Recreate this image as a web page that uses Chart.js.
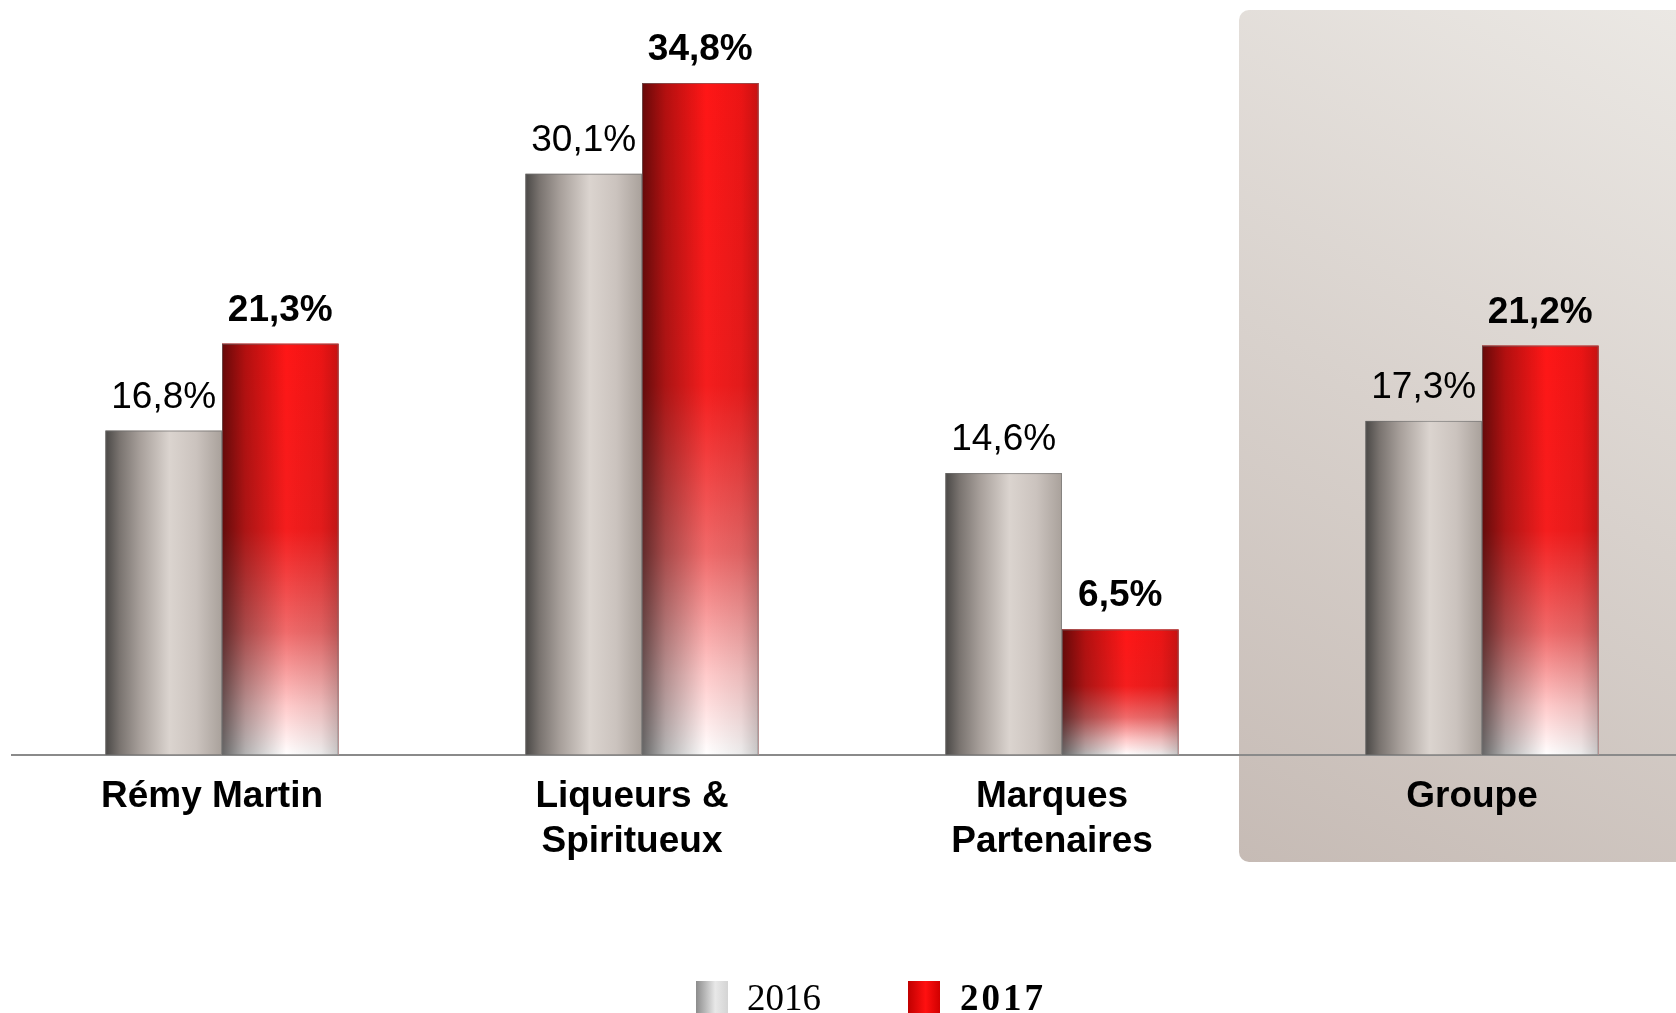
<!DOCTYPE html>
<html lang="fr">
<head>
    <meta charset="UTF-8">
    <title>Marge opérationnelle courante</title>
    <script src="https://cdn.jsdelivr.net/npm/chart.js"></script>
    <style>
        html, body { margin: 0; padding: 0; background: #fff; overflow: hidden; }
        .chart-box { position: absolute; left: 0; top: 0; width: 1700px; height: 1013px; }
    </style>
</head>
<body>
    <div class="chart-box">
        <canvas id="marginChart"></canvas>
    </div>
<script>
    const categories = [['Rémy Martin'], ['Liqueurs &', 'Spiritueux'], ['Marques', 'Partenaires'], ['Groupe']];
    const years = ['2016', '2017'];
    const margin2016 = [16.8, 30.1, 14.6, 17.3];
    const margin2017 = [21.3, 34.8, 6.5, 21.2];
    const axisMax = 39.1;

    const fmt = v => v.toFixed(1).replace('.', ',') + '%';

    // grey box behind "Groupe"
    const groupPanel = {
        id: 'groupPanel',
        beforeDraw(chart) {
            const ctx = chart.ctx;
            const left = chart.scales.x.getPixelForValue(3) - 243;
            const top = 10, bottom = chart.chartArea.bottom + 107, right = chart.width + 20, r = 10;
            const g = ctx.createLinearGradient(left, bottom, left + 440, top);
            g.addColorStop(0, '#c6bbb5');
            g.addColorStop(1, '#ebe8e4');
            ctx.save();
            ctx.fillStyle = g;
            ctx.beginPath();
            ctx.roundRect(left, top, right - left, bottom - top, r);
            ctx.fill();
            ctx.restore();
        }
    };

    // cylinder look + value labels
    const barLook = {
        id: 'barLook',
        afterDatasetsDraw(chart) {
            const ctx = chart.ctx;
            chart.data.datasets.forEach((ds, di) => {
                chart.getDatasetMeta(di).data.forEach((bar, i) => {
                    const {x, y, base, width} = bar.getProps(['x', 'y', 'base', 'width'], true);
                    const l = x - width / 2, r = x + width / 2, h = base - y;
                    ctx.save();
                    if (di === 0) {
                        const g = ctx.createLinearGradient(l, 0, r, 0);
                        g.addColorStop(0, '#4a4846');
                        g.addColorStop(0.12, '#79736f');
                        g.addColorStop(0.3, '#a8a09b');
                        g.addColorStop(0.55, '#dbd4cf');
                        g.addColorStop(0.78, '#cbc3be');
                        g.addColorStop(1, '#a9a19b');
                        ctx.fillStyle = g;
                        ctx.fillRect(l, y, width, h);
                    } else {
                        const v = ctx.createLinearGradient(0, y, 0, base);
                        v.addColorStop(0, '#ff1616');
                        v.addColorStop(0.45, '#f51d1d');
                        v.addColorStop(0.7, '#f06a6a');
                        v.addColorStop(0.88, '#ffcaca');
                        v.addColorStop(1, '#ffffff');
                        ctx.fillStyle = v;
                        ctx.fillRect(l, y, width, h);
                        const s = ctx.createLinearGradient(l, 0, r, 0);
                        s.addColorStop(0, 'rgba(0,0,0,0.6)');
                        s.addColorStop(0.2, 'rgba(0,0,0,0.3)');
                        s.addColorStop(0.55, 'rgba(0,0,0,0)');
                        s.addColorStop(0.85, 'rgba(0,0,0,0.08)');
                        s.addColorStop(1, 'rgba(0,0,0,0.22)');
                        ctx.fillStyle = s;
                        ctx.fillRect(l, y, width, h);
                    }
                    ctx.strokeStyle = 'rgba(110,110,110,0.6)';
                    ctx.lineWidth = 1;
                    ctx.strokeRect(l + 0.5, y + 0.5, width - 1, h - 1);

                    ctx.fillStyle = '#000';
                    ctx.font = (di === 1 ? 'bold ' : '') + '37px "Liberation Sans", Arial, sans-serif';
                    ctx.textAlign = 'center';
                    ctx.textBaseline = 'alphabetic';
                    ctx.fillText(fmt(ds.data[i]), x, y - 23);
                    ctx.restore();
                });
            });
        }
    };

    // legend at the bottom, cut by the frame like the original
    const bottomLegend = {
        id: 'bottomLegend',
        afterDraw(chart) {
            const ctx = chart.ctx;
            const y = 981, baseLine = 1010;
            ctx.save();
            let g = ctx.createLinearGradient(696, 0, 728, 0);
            g.addColorStop(0, '#8c8c8c');
            g.addColorStop(0.6, '#e8e8e8');
            g.addColorStop(1, '#d4d4d4');
            ctx.fillStyle = g;
            ctx.fillRect(696, y, 32, 40);
            g = ctx.createLinearGradient(908, 0, 940, 0);
            g.addColorStop(0, '#c00000');
            g.addColorStop(0.55, '#ff1010');
            g.addColorStop(1, '#d00000');
            ctx.fillStyle = g;
            ctx.fillRect(908, y, 32, 40);

            ctx.fillStyle = '#000';
            ctx.textAlign = 'left';
            ctx.textBaseline = 'alphabetic';
            ctx.font = '37px "Liberation Serif", serif';
            ctx.fillText(years[0], 747, baseLine);
            ctx.font = 'bold 37px "Liberation Serif", serif';
            ctx.letterSpacing = '3px';
            ctx.fillText(years[1], 960, baseLine);
            ctx.restore();
        }
    };

    new Chart(document.getElementById('marginChart'), {
        type: 'bar',
        data: {
            labels: categories,
            datasets: [
                { label: years[0], data: margin2016, backgroundColor: '#d8d0cb' },
                { label: years[1], data: margin2017, backgroundColor: '#f01010' }
            ]
        },
        options: {
            responsive: true,
            maintainAspectRatio: false,
            animation: false,
            layout: { padding: { top: 0, left: 12, right: 8, bottom: 130 } },
            datasets: { bar: { categoryPercentage: 0.555, barPercentage: 1 } },
            plugins: {
                legend: { display: false },
                tooltip: { enabled: false }
            },
            scales: {
                x: {
                    grid: { display: false, drawTicks: false },
                    border: { display: true, color: '#8a8a8a', width: 2 },
                    ticks: {
                        color: '#000',
                        padding: 19,
                        labelOffset: -10,
                        maxRotation: 0,
                        autoSkip: false,
                        font: { family: '"Liberation Sans", Arial, sans-serif', size: 37, weight: 'bold', lineHeight: 45 / 37 }
                    }
                },
                y: {
                    display: false,
                    min: 0,
                    max: axisMax
                }
            }
        },
        plugins: [groupPanel, barLook, bottomLegend]
    });
</script>
</body>
</html>
